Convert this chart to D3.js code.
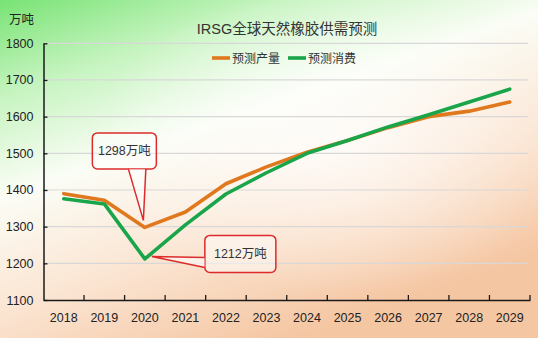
<!DOCTYPE html>
<html><head><meta charset="utf-8">
<script src="https://cdn.jsdelivr.net/npm/d3@7"></script>
<style>
html,body{margin:0;padding:0;overflow:hidden;}
svg{display:block;}
text{font-family:"Liberation Sans","Noto Sans CJK SC",sans-serif;}
</style></head>
<body>
<script>
const years = ["2018","2019","2020","2021","2022","2023","2024","2025","2026","2027","2028","2029"];
const production = [1390,1372,1298,1340,1417,1463,1503,1535,1570,1600,1615,1640];
const consumption = [1376,1362,1212,1305,1389,1447,1500,1535,1572,1605,1640,1675];
const yTicks = [1100,1200,1300,1400,1500,1600,1700,1800];
const seriesNames = ["预测产量","预测消费"];
const seriesColors = ["#E0781E","#1AA54B"];
const title = "IRSG全球天然橡胶供需预测";
const unit = "万吨";

const W = 538, H = 338;
const svg = d3.select("body").append("svg").attr("width", W).attr("height", H);
const defs = svg.append("defs");
const bg = defs.append("linearGradient").attr("id","bg")
  .attr("x1","0").attr("y1","0").attr("x2","0.55").attr("y2","1");
bg.append("stop").attr("offset","0").attr("stop-color","#78E374");
bg.append("stop").attr("offset","0.22").attr("stop-color","#C6F4C0");
bg.append("stop").attr("offset","0.45").attr("stop-color","#FBFDF6");
bg.append("stop").attr("offset","0.7").attr("stop-color","#FBE6D4");
bg.append("stop").attr("offset","1").attr("stop-color","#F5C6A2");
svg.append("rect").attr("width",W).attr("height",H).attr("fill","url(#bg)");
const glow = defs.append("radialGradient").attr("id","glow")
  .attr("cx","0.62").attr("cy","0.42").attr("r","0.45");
glow.append("stop").attr("offset","0").attr("stop-color","#ffffff").attr("stop-opacity",0.75);
glow.append("stop").attr("offset","1").attr("stop-color","#ffffff").attr("stop-opacity",0);
svg.append("rect").attr("width",W).attr("height",H).attr("fill","url(#glow)");

const x = d3.scaleBand().domain(years).range([43.5, 530]);
const y = d3.scaleLinear().domain([1100,1800]).range([300, 43.3]);
const cx = d => x(d) + x.bandwidth()/2;

// gridlines
svg.append("g").selectAll("line").data(yTicks.slice(1)).join("line")
  .attr("x1", 44).attr("x2", 528)
  .attr("y1", d => y(d)).attr("y2", d => y(d))
  .attr("stroke", "#d8d8d8").attr("stroke-width", 1.2);

// y axis
const yAxis = svg.append("g").attr("transform","translate(43.5,0)")
  .call(d3.axisLeft(y).tickValues(yTicks).tickSize(0).tickPadding(10).tickFormat(d3.format("d")));
yAxis.select(".domain").attr("stroke","#1a1a1a").attr("stroke-width",1.5);
yAxis.selectAll(".tick text").attr("font-size",12.5).attr("fill","#222");
yAxis.selectAll(".tick").append("line").attr("x1",-0).attr("x2",4).attr("stroke","#1a1a1a").attr("stroke-width",1.3);

// x axis
const xAxis = svg.append("g").attr("transform","translate(0,300)")
  .call(d3.axisBottom(x).tickSize(0).tickPadding(13));
xAxis.select(".domain").attr("stroke","#1a1a1a").attr("stroke-width",1.5);
xAxis.selectAll(".tick text").attr("font-size",12.5).attr("fill","#222");
svg.append("g").selectAll("line").data(years).join("line")
  .attr("x1", d => x(d) + x.bandwidth()).attr("x2", d => x(d) + x.bandwidth())
  .attr("y1", 300).attr("y2", 295)
  .attr("stroke","#1a1a1a").attr("stroke-width",1.3);

// lines
const line = d3.line().x((d,i) => cx(years[i])).y(d => y(d)).curve(d3.curveLinear);
[production, consumption].forEach((s, k) => {
  svg.append("path").datum(s).attr("d", line)
    .attr("fill","none").attr("stroke", seriesColors[k])
    .attr("stroke-width", 3.6).attr("stroke-linejoin","round").attr("stroke-linecap","round");
});

// title
svg.append("text").attr("x", 287).attr("y", 34).attr("text-anchor","middle")
  .attr("font-size", 14.5).attr("fill","#333").text(title);
svg.append("text").attr("x", 9).attr("y", 24).attr("font-size", 12.5).attr("fill","#222").text(unit);

// legend
const leg = [[212, 232], [288, 308]];
seriesNames.forEach((n, k) => {
  svg.append("line").attr("x1", leg[k][0]).attr("x2", leg[k][0]+18).attr("y1", 58).attr("y2", 58)
    .attr("stroke", seriesColors[k]).attr("stroke-width", 3.6);
  svg.append("text").attr("x", leg[k][1]).attr("y", 62.5).attr("font-size", 12).attr("fill","#333").text(n);
});

// callouts
const minP = d3.min(production), minC = d3.min(consumption);
const iP = production.indexOf(minP), iC = consumption.indexOf(minC);
function callout(bx, by, bw, bh, pts, label) {
  svg.append("rect").attr("x", bx).attr("y", by).attr("width", bw).attr("height", bh)
    .attr("rx", 5).attr("fill","#ffffff").attr("fill-opacity",0.45)
    .attr("stroke","#DD2B2B").attr("stroke-width",1.5);
  svg.append("path").attr("d", d3.line()(pts)).attr("fill","#ffffff").attr("fill-opacity",0.5)
    .attr("stroke","#DD2B2B").attr("stroke-width",1.5).attr("stroke-linejoin","miter");
  svg.append("text").attr("x", bx + bw/2).attr("y", by + bh/2 + 4.5).attr("text-anchor","middle")
    .attr("font-size", 12.5).attr("fill","#333").text(label);
}
{
  const tx = cx(years[iP]) - 1.5, ty = y(minP) - 7;
  callout(tx - 51, ty - 87.5, 64, 36, [[tx - 15, ty - 51.5],[tx, ty],[tx + 2.5, ty - 51.5]], minP + "万吨");
}
{
  const tx = cx(years[iC]) + 7, ty = y(minC) - 2.5;
  callout(tx + 53, ty - 21, 71, 37, [[tx + 53, ty + 1],[tx, ty],[tx + 53, ty + 11]], minC + "万吨");
}
</script>
</body></html>
